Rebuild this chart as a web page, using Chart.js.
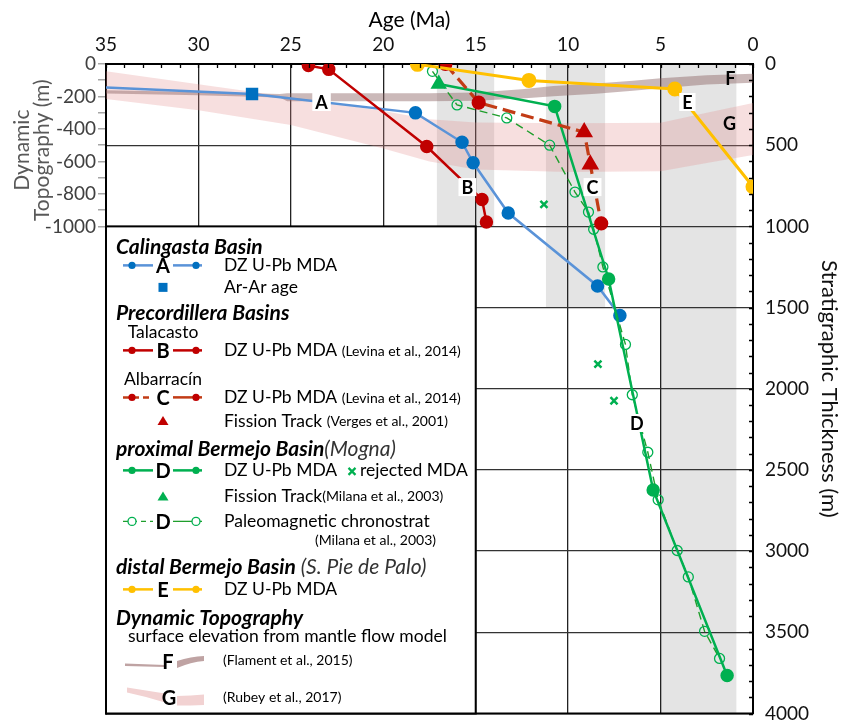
<!DOCTYPE html>
<html>
<head>
<meta charset="utf-8">
<script src="https://cdn.jsdelivr.net/npm/chart.js@4.4.0/dist/chart.umd.min.js"></script>
<style>
  html, body { margin: 0; padding: 0; background: #fff; }
  #wrap { width: 845px; height: 723px; position: relative; }
</style>
</head>
<body>
<div id="wrap"><canvas id="chart"></canvas></div>
<script>
// Age (Ma) against stratigraphic thickness (m) and modelled dynamic topography (m)

// A – Calingasta Basin (DZ U-Pb MDA, Ar-Ar age)
const calingastaAge  = [35.0, 27.1, 18.26, 15.74, 15.14, 13.24, 8.41, 7.2];
const calingastaThk  = [145, 185, 301, 482, 608, 918, 1367, 1549];
const calingastaKind = ['none', 'ArAr', 'MDA', 'MDA', 'MDA', 'MDA', 'MDA', 'MDA'];

// B – Talacasto (DZ U-Pb MDA)
const talacastoAge = [24.05, 22.95, 17.65, 14.66, 14.42];
const talacastoThk = [9, 33, 508, 834, 973];

// C – Albarracín (DZ U-Pb MDA and fission track)
const albarracinAge  = [16.64, 14.84, 9.13, 8.8, 8.21];
const albarracinThk  = [0, 238, 420, 619, 982];
const albarracinKind = ['MDA', 'MDA', 'FT', 'FT', 'MDA'];

// D – proximal Bermejo Basin, Mogna (fission track + DZ U-Pb MDA)
const mognaAge  = [17.0, 10.73, 7.81, 5.4, 1.4];
const mognaThk  = [123, 261, 1324, 2623, 3766];
const mognaKind = ['FT', 'MDA', 'MDA', 'MDA', 'MDA'];

// D – paleomagnetic chronostratigraphy
const paleomagAge = [17.34, 16.01, 13.32, 11.0, 9.63, 8.9, 8.62, 8.12, 6.9, 6.53, 5.69, 5.13, 4.1, 3.5, 2.62, 1.81];
const paleomagThk = [45, 252, 332, 500, 789, 912, 1018, 1250, 1727, 2037, 2391, 2684, 2996, 3159, 3494, 3661];

// D – rejected MDA
const rejectedAge = [11.31, 8.39, 7.52];
const rejectedThk = [865, 1848, 2074];

// E – distal Bermejo Basin, S. Pie de Palo
const pieDePaloAge = [18.15, 12.12, 4.23, 0];
const pieDePaloThk = [2, 101, 154, 756];

// F – dynamic topography envelope (Flament et al., 2015), metres
const flamentAge   = [35, 30, 25.6, 25.2, 20, 17.5, 15, 12.5, 10.8, 8.5, 6.5, 5, 2.5, 0];
const flamentUpper = [-162, -172, -184, -180, -180, -180, -176, -155, -135, -120, -103, -88, -70, -60];
const flamentLower = [-182, -193, -206, -230, -230, -230, -226, -212, -198, -183, -165, -150, -127, -115];

// G – dynamic topography envelope (Rubey et al., 2017), metres
const rubeyAge   = [35, 30, 25, 20, 17.5, 15, 10, 5, 2.5, 0];
const rubeyUpper = [-45, -125, -205, -290, -340, -360, -365, -362, -300, -240];
const rubeyLower = [-215, -285, -375, -520, -600, -650, -665, -660, -610, -560];

// grey age intervals (older edge, younger edge, depth reached in m)
const intervalOld   = [17.1, 11.2, 5.0];
const intervalYoung = [14.0, 8.0, 0.9];
const intervalDepth = [1000, 1500, 4000];

// axis ticks
const ageTicks   = [35, 30, 25, 20, 15, 10, 5, 0];
const thickTicks = [0, 500, 1000, 1500, 2000, 2500, 3000, 3500, 4000];
const topoTicks  = [0, -100, -200, -300, -400, -500, -600, -700, -800, -900, -1000];

// series letters on the plot (age, thickness)
const markLetters = ['A', 'B', 'C', 'D', 'E', 'F', 'G'];
const markAge     = [23.34, 15.45, 8.68, 6.28, 3.55, 1.22, 1.27];
const markThk     = [234, 758, 758, 2211, 234, 90, 363];
const markBoxed   = [true, true, true, true, true, false, false];

const FONT = 'Lato, "Liberation Sans", sans-serif';
const BLUE_LINE = '#5a93d8', BLUE = '#0070c0';
const RED = '#c00000', RED_DASH = '#c23c16';
const GREEN = '#00b050', GREEN_DASH = '#1f9e2c';
const YELLOW = '#ffc000';
const F_FILL = 'rgba(140,100,100,0.45)', G_FILL = 'rgba(225,140,140,0.28)';

const pts = (xs, ys) => xs.map((x, i) => ({ x: x, y: ys[i] }));

// grey age intervals beneath the grid
const intervalPlugin = {
  id: 'ageIntervals',
  beforeDraw(chart) {
    const { ctx, scales } = chart;
    const top = scales.y.getPixelForValue(0);
    ctx.save();
    ctx.fillStyle = '#e4e4e4';
    intervalOld.forEach((a, i) => {
      const xl = scales.x.getPixelForValue(a);
      const xr = scales.x.getPixelForValue(intervalYoung[i]);
      const yb = scales.y.getPixelForValue(intervalDepth[i]);
      ctx.fillRect(xl, top, xr - xl, yb - top);
    });
    ctx.restore();
  }
};

// inner minor ticks, frame and series letters
const framePlugin = {
  id: 'frame',
  afterDatasetsDraw(chart) {
    const { ctx, scales, chartArea: ca } = chart;
    ctx.save();
    ctx.strokeStyle = '#000';
    ctx.lineWidth = 1.3;
    ctx.beginPath();
    for (let a = 0; a <= 35; a++) {
      const x = Math.round(scales.x.getPixelForValue(a)) + 0.5;
      ctx.moveTo(x, ca.top); ctx.lineTo(x, ca.top + 4);
    }
    for (let t = 0; t <= 4000; t += 100) {
      const y = Math.round(scales.y.getPixelForValue(t)) + 0.5;
      ctx.moveTo(ca.right, y); ctx.lineTo(ca.right - 4, y);
    }
    ctx.stroke();
    // bottom edge of the frame
    ctx.lineWidth = 2;
    ctx.beginPath();
    ctx.moveTo(ca.left, ca.bottom); ctx.lineTo(ca.right, ca.bottom);
    ctx.stroke();

    // series letters
    ctx.font = 'bold 18px ' + FONT;
    ctx.textAlign = 'center';
    ctx.textBaseline = 'middle';
    markLetters.forEach((s, i) => {
      const x = scales.x.getPixelForValue(markAge[i]);
      const y = scales.y.getPixelForValue(markThk[i]);
      if (markBoxed[i]) {
        const w = ctx.measureText(s).width + 6;
        ctx.fillStyle = '#fff';
        ctx.fillRect(x - w / 2, y - 9, w, 18);
      }
      ctx.fillStyle = '#000';
      ctx.fillText(s, x, y + 1);
    });
    ctx.restore();
  }
};

// legend panel and the two free-standing axis titles
const legendPlugin = {
  id: 'basinLegend',
  afterDraw(chart) {
    const { ctx, scales } = chart;
    const bx = scales.x.getPixelForValue(35), bx2 = scales.x.getPixelForValue(15);
    const by = scales.y.getPixelForValue(1000), by2 = scales.y.getPixelForValue(4000);
    ctx.save();
    ctx.fillStyle = '#fff';
    ctx.fillRect(bx, by, bx2 - bx, by2 - by);
    ctx.strokeStyle = '#000';
    ctx.lineWidth = 2;
    ctx.strokeRect(bx, by, bx2 - bx, by2 - by);

    const text = (s, x, y, font, color, align) => {
      ctx.font = font;
      ctx.fillStyle = color || '#000';
      ctx.textAlign = align || 'left';
      ctx.textBaseline = 'middle';
      ctx.fillText(s, x, y);
      return ctx.measureText(s).width;
    };
    const HEAD = 'italic bold 21px ' + FONT;
    const HEAD_SUB = 'italic 21px ' + FONT;
    const BODY = '17.5px ' + FONT;
    const SMALL = '14px ' + FONT;
    const LETTER = 'bold 20px ' + FONT;
    const ix = bx + 57;          // icon centre
    const tx = bx + 118;         // description column

    const dot = (x, y, r, color, open) => {
      ctx.beginPath();
      ctx.arc(x, y, r, 0, Math.PI * 2);
      if (open) { ctx.fillStyle = '#fff'; ctx.fill(); ctx.strokeStyle = color; ctx.lineWidth = 1.3; ctx.stroke(); }
      else { ctx.fillStyle = color; ctx.fill(); }
    };
    const seg = (x1, x2, y, color, w, dash) => {
      ctx.beginPath();
      ctx.setLineDash(dash || []);
      ctx.strokeStyle = color; ctx.lineWidth = w;
      ctx.moveTo(x1, y); ctx.lineTo(x2, y); ctx.stroke();
      ctx.setLineDash([]);
    };
    const lineIcon = (y, letter, color, w, leftDash, open, dotColor) => {
      seg(bx + 17, ix - 10, y, color, w, leftDash);
      seg(ix + 10, bx + 96, y, color, w, null);
      dot(bx + 26, y, open ? 4 : 3.6, dotColor || color, open);
      dot(bx + 90, y, open ? 4 : 3.6, dotColor || color, open);
      text(letter, ix, y + 1, LETTER, '#000', 'center');
    };
    const triangle = (x, y, color) => {
      ctx.beginPath();
      ctx.moveTo(x, y - 5); ctx.lineTo(x + 5.5, y + 4); ctx.lineTo(x - 5.5, y + 4); ctx.closePath();
      ctx.fillStyle = color; ctx.fill();
    };

    // Calingasta Basin
    text('Calingasta Basin', bx + 10, by + 21, HEAD);
    lineIcon(by + 39, 'A', BLUE_LINE, 2.5, null, false, BLUE);
    text('DZ U-Pb MDA', tx, by + 39, BODY);
    ctx.fillStyle = BLUE; ctx.fillRect(ix - 4.5, by + 61 - 4.5, 9, 9);
    text('Ar-Ar age', tx, by + 61, BODY);

    // Precordillera Basins
    text('Precordillera Basins', bx + 10, by + 87, HEAD);
    text('Talacasto', ix, by + 106, BODY, '#000', 'center');
    lineIcon(by + 124, 'B', RED, 2.5, null, false, RED);
    let w = text('DZ U-Pb MDA ', tx, by + 124, BODY);
    text('(Levina et al., 2014)', tx + w, by + 125, SMALL);
    text('Albarracín', ix, by + 153, BODY, '#000', 'center');
    lineIcon(by + 171, 'C', RED_DASH, 2.5, [6, 4], false, RED);
    w = text('DZ U-Pb MDA ', tx, by + 171, BODY);
    text('(Levina et al., 2014)', tx + w, by + 172, SMALL);
    triangle(ix, by + 194.5, RED);
    w = text('Fission Track ', tx, by + 194.5, BODY);
    text('(Verges et al., 2001)', tx + w, by + 195.5, SMALL);

    // proximal Bermejo Basin
    w = text('proximal Bermejo Basin', bx + 10, by + 223, HEAD);
    text('(Mogna)', bx + 10 + w, by + 223, HEAD_SUB, '#333');
    lineIcon(by + 244, 'D', GREEN, 2.5, null, false, GREEN);
    text('DZ U-Pb MDA', tx, by + 244, BODY);
    // rejected-MDA cross
    const cx = bx + 246, cy = by + 245;
    ctx.strokeStyle = GREEN; ctx.lineWidth = 2.2;
    ctx.beginPath();
    ctx.moveTo(cx - 3.5, cy - 3.5); ctx.lineTo(cx + 3.5, cy + 3.5);
    ctx.moveTo(cx + 3.5, cy - 3.5); ctx.lineTo(cx - 3.5, cy + 3.5);
    ctx.stroke();
    text('rejected MDA', bx + 254, by + 244, BODY);
    triangle(ix, by + 270, GREEN);
    w = text('Fission Track', tx, by + 269.5, BODY);
    text('(Milana et al., 2003)', tx + w, by + 270.5, SMALL);
    lineIcon(by + 295, 'D', GREEN_DASH, 1.3, [5, 4], true, GREEN);
    text('Paleomagnetic chronostrat', tx, by + 295, BODY);
    text('(Milana et al., 2003)', bx + 330, by + 314, SMALL, '#000', 'right');

    // distal Bermejo Basin
    w = text('distal Bermejo Basin', bx + 10, by + 341, HEAD);
    text(' (S. Pie de Palo)', bx + 10 + w, by + 341, HEAD_SUB, '#333');
    lineIcon(by + 363, 'E', YELLOW, 2.5, null, false, YELLOW);
    text('DZ U-Pb MDA', tx, by + 363, BODY);

    // Dynamic Topography
    text('Dynamic Topography', bx + 10, by + 392, HEAD);
    text('surface elevation from mantle flow model', bx + 22, by + 410, BODY);
    // F swatch
    ctx.fillStyle = '#bfa3a3';
    ctx.beginPath();
    ctx.moveTo(bx + 19, by + 437); ctx.lineTo(bx + 59, by + 438.5);
    ctx.lineTo(bx + 59, by + 440.5); ctx.lineTo(bx + 19, by + 439.5); ctx.closePath(); ctx.fill();
    ctx.beginPath();
    ctx.moveTo(bx + 71, by + 434.5); ctx.quadraticCurveTo(bx + 85, by + 430, bx + 98, by + 429.5);
    ctx.lineTo(bx + 98, by + 434.5); ctx.quadraticCurveTo(bx + 85, by + 435.5, bx + 71, by + 441.5);
    ctx.closePath(); ctx.fill();
    text('F', bx + 62, by + 436, LETTER, '#000', 'center');
    text('(Flament et al., 2015)', bx + 117, by + 434, SMALL);
    // G swatch
    ctx.fillStyle = '#f2d2d2';
    ctx.beginPath();
    ctx.moveTo(bx + 21, by + 461); ctx.quadraticCurveTo(bx + 40, by + 464, bx + 59, by + 467);
    ctx.lineTo(bx + 59, by + 476); ctx.quadraticCurveTo(bx + 40, by + 470, bx + 21, by + 466);
    ctx.closePath(); ctx.fill();
    ctx.beginPath();
    ctx.moveTo(bx + 71, by + 469.5); ctx.quadraticCurveTo(bx + 85, by + 469, bx + 98, by + 468);
    ctx.lineTo(bx + 98, by + 478.5); ctx.quadraticCurveTo(bx + 85, by + 479, bx + 71, by + 479);
    ctx.closePath(); ctx.fill();
    text('G', bx + 63, by + 472, LETTER, '#000', 'center');
    text('(Rubey et al., 2017)', bx + 117, by + 471, SMALL);

    // axis titles: Age on top, Dynamic Topography on the left
    const ca = chart.chartArea;
    text('Age (Ma)', (ca.left + ca.right) / 2 - 20, 20, '21px ' + FONT, '#000', 'center');
    const yl = scales.yl;
    const midY = (yl.getPixelForValue(0) + yl.getPixelForValue(-1000)) / 2 + 5;
    ctx.save();
    ctx.translate(22, midY);
    ctx.rotate(-Math.PI / 2);
    text('Dynamic', 0, 0, '21px ' + FONT, '#595959', 'center');
    ctx.restore();
    ctx.save();
    ctx.translate(42, midY);
    ctx.rotate(-Math.PI / 2);
    text('Topography (m)', 0, 0, '21px ' + FONT, '#595959', 'center');
    ctx.restore();
    ctx.restore();
  }
};

const kindRadius = k => (k === 'none' ? 0 : k === 'ArAr' ? 7 : k === 'FT' ? 7 : 5.5);
const kindStyle  = k => (k === 'ArAr' ? 'rect' : k === 'FT' ? 'triangle' : 'circle');

// vertical axes: keep end labels from shrinking the plot area
const noEdgePad = s => { s.paddingTop = 0; s.paddingBottom = 0; };

new Chart(document.getElementById('chart'), {
  type: 'line',
  data: {
    datasets: [
      {
        label: 'E – DZ U-Pb MDA (S. Pie de Palo)',
        data: pts(pieDePaloAge, pieDePaloThk), yAxisID: 'y',
        borderColor: YELLOW, borderWidth: 3,
        pointBackgroundColor: YELLOW, pointBorderColor: YELLOW, pointRadius: 6, order: 1
      },
      {
        label: 'C – Albarracín',
        data: pts(albarracinAge, albarracinThk), yAxisID: 'y',
        borderColor: RED_DASH, borderWidth: 3.2, borderDash: [13, 6],
        pointBackgroundColor: RED, pointBorderColor: RED,
        pointStyle: c => kindStyle(albarracinKind[c.dataIndex]),
        pointRadius: c => kindRadius(albarracinKind[c.dataIndex]), order: 2
      },
      {
        label: 'B – Talacasto',
        data: pts(talacastoAge, talacastoThk), yAxisID: 'y',
        borderColor: RED, borderWidth: 2.5,
        pointBackgroundColor: RED, pointBorderColor: RED, pointRadius: 5.5, order: 3
      },
      {
        label: 'D – DZ U-Pb MDA (Mogna)',
        data: pts(mognaAge, mognaThk), yAxisID: 'y',
        borderColor: GREEN, borderWidth: 2.5,
        pointBackgroundColor: GREEN, pointBorderColor: GREEN,
        pointStyle: c => kindStyle(mognaKind[c.dataIndex]),
        pointRadius: c => kindRadius(mognaKind[c.dataIndex]), order: 4
      },
      {
        label: 'D – paleomagnetic chronostratigraphy',
        data: pts(paleomagAge, paleomagThk), yAxisID: 'y',
        borderColor: GREEN_DASH, borderWidth: 1.4, borderDash: [8, 5],
        pointBackgroundColor: 'rgba(255,255,255,0)', pointBorderColor: GREEN,
        pointBorderWidth: 1.3, pointRadius: 5, order: 5
      },
      {
        label: 'rejected MDA',
        data: pts(rejectedAge, rejectedThk), yAxisID: 'y', showLine: false,
        pointStyle: 'crossRot', pointBorderColor: GREEN, pointBorderWidth: 2.5, pointRadius: 5, order: 6
      },
      {
        label: 'A – Calingasta',
        data: pts(calingastaAge, calingastaThk), yAxisID: 'y',
        borderColor: BLUE_LINE, borderWidth: 2.5,
        pointBackgroundColor: BLUE, pointBorderColor: BLUE,
        pointStyle: c => kindStyle(calingastaKind[c.dataIndex]),
        pointRadius: c => kindRadius(calingastaKind[c.dataIndex]), order: 7
      },
      {
        label: 'F upper', data: pts(flamentAge, flamentUpper), yAxisID: 'yl',
        borderWidth: 0, pointRadius: 0, fill: false, order: 20
      },
      {
        label: 'F – Flament et al., 2015', data: pts(flamentAge, flamentLower), yAxisID: 'yl',
        borderWidth: 0, pointRadius: 0, fill: '-1', backgroundColor: F_FILL, order: 20
      },
      {
        label: 'G upper', data: pts(rubeyAge, rubeyUpper), yAxisID: 'yl',
        borderWidth: 0, pointRadius: 0, fill: false, order: 21
      },
      {
        label: 'G – Rubey et al., 2017', data: pts(rubeyAge, rubeyLower), yAxisID: 'yl',
        borderWidth: 0, pointRadius: 0, fill: '-1', backgroundColor: G_FILL, order: 21
      }
    ]
  },
  options: {
    responsive: true,
    maintainAspectRatio: false,
    animation: false,
    events: [],
    layout: { padding: { left: 0, right: 0, top: 0, bottom: 8 } },
    plugins: { legend: { display: false }, tooltip: { enabled: false } },
    scales: {
      x: {
        type: 'linear', position: 'top', min: 0, max: 35, reverse: true,
        afterBuildTicks: s => { s.ticks = ageTicks.map(v => ({ value: v })); },
        afterFit: s => { s.height = 64; s.paddingLeft = 0; s.paddingRight = 0; },
        ticks: { color: '#111', padding: 8, font: { family: FONT, size: 19 }, callback: v => String(v) },
        grid: { color: '#222', lineWidth: 1.3, drawTicks: false },
        border: { color: '#000', width: 2 }
      },
      y: {
        type: 'linear', position: 'right', min: 0, max: 4000, reverse: true,
        afterBuildTicks: s => { s.ticks = thickTicks.map(v => ({ value: v })); },
        afterFit: s => { s.width = 92; noEdgePad(s); },
        ticks: { color: '#111', padding: 12, font: { family: FONT, size: 19 }, callback: v => String(v) },
        grid: { color: '#333', lineWidth: 1.3, drawTicks: false },
        border: { color: '#000', width: 2 },
        title: {
          display: true, text: 'Stratigraphic Thickness (m)', color: '#111',
          font: { family: FONT, size: 22 }, padding: { top: 3, bottom: 0 }
        }
      },
      yl: {
        type: 'linear', position: 'left', min: -4000, max: 0,
        afterBuildTicks: s => { s.ticks = topoTicks.map(v => ({ value: v })); },
        afterFit: s => { s.width = 106; noEdgePad(s); },
        ticks: {
          color: '#404040', padding: 2, font: { family: FONT, size: 19 },
          callback: v => (v % 200 === 0 ? String(v) : '')
        },
        grid: { drawOnChartArea: false, color: '#a6a6a6', lineWidth: 1.5, tickLength: 8 },
        border: { color: '#000', width: 2 }
      }
    }
  },
  plugins: [intervalPlugin, framePlugin, legendPlugin]
});
</script>
</body>
</html>
